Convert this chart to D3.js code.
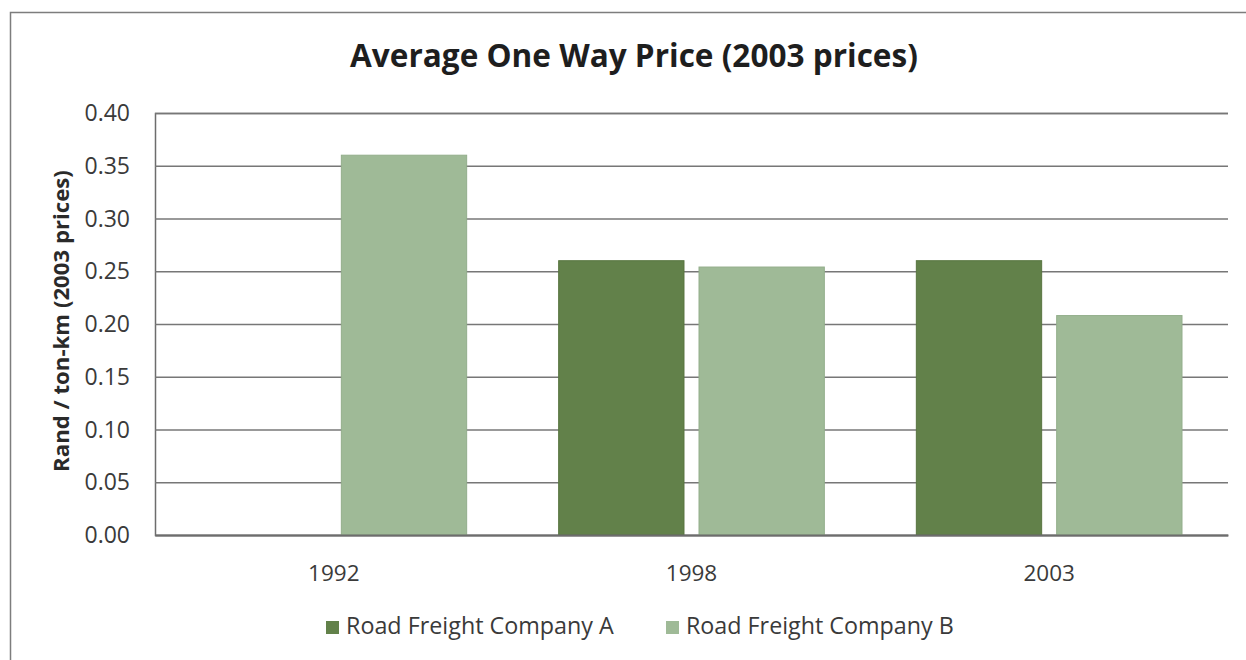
<html>
<head>
<script src="https://d3js.org/d3.v7.min.js"></script>
<style>
  body { margin: 0; background: #fff; }
  text { font-family: "Open Sans", sans-serif; fill: #3a3a3a; }
</style>
</head>
<body>
<script>
var categories = ["1992", "1998", "2003"];
var seriesNames = ["Road Freight Company A", "Road Freight Company B"];
var companyA = [null, 0.260, 0.260];
var companyB = [0.360, 0.254, 0.208];
var yTicks = [0, 0.05, 0.10, 0.15, 0.20, 0.25, 0.30, 0.35, 0.40];
var colors = ["#62814a", "#9fba97"];

var width = 1246, height = 660;
var margin = { left: 155, top: 113, right: 18, bottom: 125 };
var innerWidth = width - margin.left - margin.right;
var innerHeight = height - margin.top - margin.bottom;

var svg = d3.select("body").append("svg")
  .attr("width", width)
  .attr("height", height);

// outer chart border (only top and left edges are inside the picture)
svg.append("path")
  .attr("d", "M10.5,660 L10.5,12.5 L1246,12.5")
  .attr("fill", "none").attr("stroke", "#7d7d7d").attr("stroke-width", 1.5);

// fit a text element to a width by adjusting font size
function fitText(sel, targetWidth) {
  var node = sel.node();
  var fs = parseFloat(sel.attr("font-size"));
  var w = node.getComputedTextLength();
  sel.attr("font-size", fs * targetWidth / w);
}

var title = svg.append("text")
  .attr("x", 634).attr("y", 67)
  .attr("text-anchor", "middle")
  .attr("font-size", 26)
  .attr("font-weight", "bold")
  .style("fill", "#1e1e1e")
  .text("Average One Way Price (2003 prices)");
fitText(title, 568);

var g = svg.append("g")
  .attr("transform", "translate(" + margin.left + "," + margin.top + ")");

var x0 = d3.scaleBand().domain(categories).range([0, innerWidth]).paddingInner(0).paddingOuter(0);
var x1 = d3.scaleBand().domain([0, 1]).range([46, x0.bandwidth() - 46]).paddingInner(0.107);
var y = d3.scaleLinear().domain([0, 0.40]).range([innerHeight, 0]);

// gridlines
var gridG = g.append("g").call(d3.axisLeft(y).tickValues(yTicks).tickSize(-innerWidth).tickFormat(""));
gridG.select(".domain").attr("stroke", "#6d6d6d").attr("stroke-width", 1.5);
gridG.selectAll(".tick line").attr("stroke", "#777").attr("stroke-width", 1.5);

// y tick labels
g.selectAll(".ylab").data(yTicks).enter().append("text")
  .attr("class", "ylab")
  .attr("x", -25)
  .attr("y", function(d) { return y(d); })
  .attr("dy", "0.35em")
  .attr("text-anchor", "end")
  .attr("font-size", 23)
  .style("fill", "#3a3a3a")
  .text(d3.format(".2f"));

var data = categories.map(function(c, i) {
  return { cat: c, values: [companyA[i], companyB[i]] };
});

var groups = g.selectAll(".grp").data(data).enter().append("g")
  .attr("transform", function(d) { return "translate(" + x0(d.cat) + ",0)"; });

groups.selectAll("rect")
  .data(function(d) { return d.values.map(function(v, k) { return { k: k, v: v }; }).filter(function(e) { return e.v != null; }); })
  .enter().append("rect")
  .attr("x", function(d) { return x1(d.k); })
  .attr("y", function(d) { return y(d.v); })
  .attr("width", x1.bandwidth())
  .attr("height", function(d) { return innerHeight - y(d.v); })
  .attr("fill", function(d) { return colors[d.k]; })
  .attr("stroke", function(d) { return d.k == 0 ? "#587540" : "#93ae8b"; })
  .attr("stroke-width", 1);

// x axis
var xAxis = d3.axisBottom(x0).tickSize(0).tickPadding(30);
var xAxisG = g.append("g").attr("transform", "translate(0," + innerHeight + ")").call(xAxis);
xAxisG.select(".domain").attr("stroke", "#6d6d6d").attr("stroke-width", 2);
xAxisG.selectAll(".tick text")
  .attr("font-size", 22.5)
  .attr("font-family", "Open Sans")
  .style("fill", "#3a3a3a");

// y axis title
var yLabel = svg.append("text")
  .attr("transform", "translate(69,321) rotate(-90)")
  .attr("text-anchor", "middle")
  .attr("font-size", 20)
  .attr("font-weight", "bold")
  .style("fill", "#2a2a2a")
  .text("Rand / ton-km (2003 prices)");
fitText(yLabel, 302);

// legend
var legendX = [326, 666];
var legend = svg.selectAll(".legend").data(seriesNames).enter().append("g")
  .attr("transform", function(d, i) { return "translate(" + legendX[i] + ",621)"; });
legend.append("rect")
  .attr("width", 13).attr("height", 13)
  .attr("fill", function(d, i) { return colors[i]; });
legend.append("text")
  .attr("x", 20).attr("y", 13)
  .attr("font-size", 20)
  .style("fill", "#3a3a3a")
  .text(function(d) { return d; })
  .each(function() { fitText(d3.select(this), 268); });
</script>
</body>
</html>
